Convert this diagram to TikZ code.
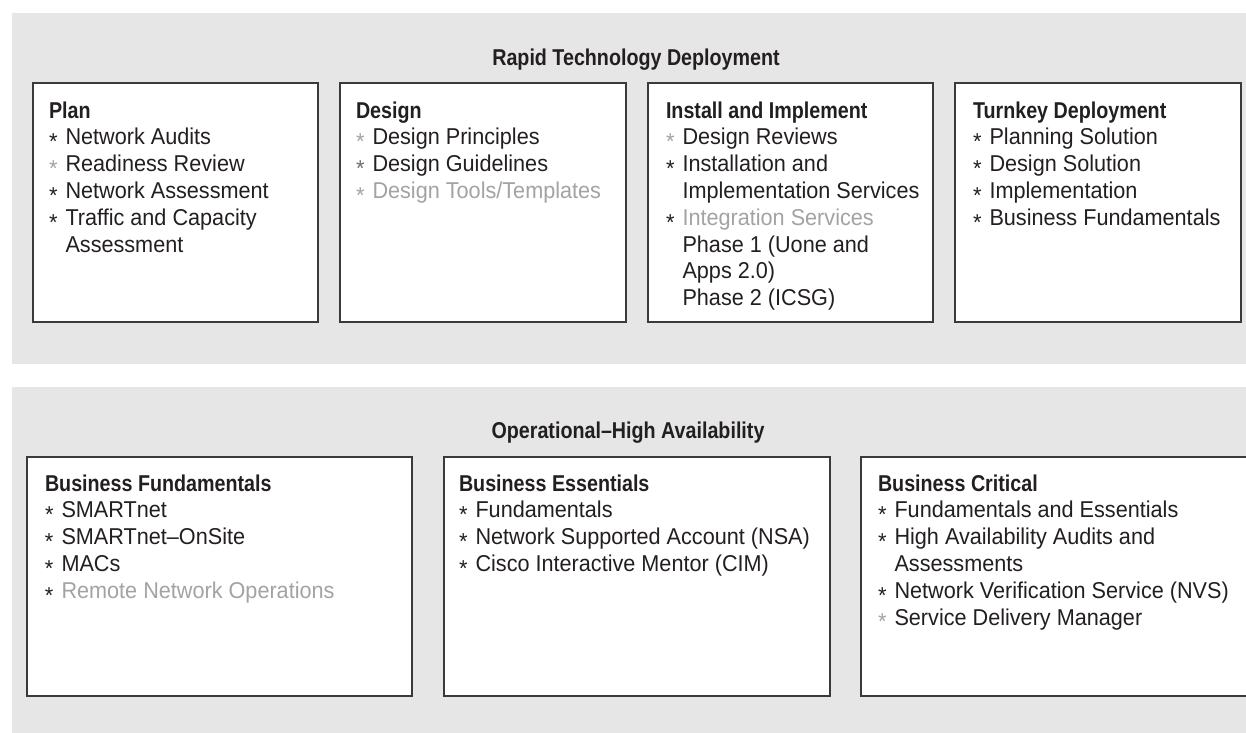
\documentclass[tikz,border=0pt]{standalone}
\usepackage{fontspec}
\setmainfont{Liberation Sans}[FakeStretch=0.945]
\newfontfamily\hdfont{Liberation Sans}[FakeStretch=0.86,Ligatures=TeX]
\definecolor{bandgray}{HTML}{E6E6E6}
\definecolor{edge}{HTML}{3A3A3A}
\definecolor{ink}{HTML}{231F20}
\definecolor{soft}{HTML}{A3A3A3}
\definecolor{mid}{HTML}{6E6E6E}

% bullet star, item line, continuation line, heading
\newcommand\bstar{\raisebox{-4.8pt}{\fontsize{23}{23}\selectfont *}}
\newcommand\itm[3]{\makebox[16.5pt][l]{\color{#1}\bstar}\textcolor{#2}{#3}}
\newcommand\cont[1]{\hspace*{16.5pt}#1}
\newcommand\hd[1]{{\hdfont\bfseries #1}}
\newcommand\blk[1]{\parbox[t]{420pt}{\fontsize{22.9}{26.8}\selectfont\raggedright #1\par}}

\begin{document}
\begin{tikzpicture}[x=1pt,y=-1pt,
  band/.style={fill=bandgray,draw=none,inner sep=0,outer sep=0,anchor=north west},
  card/.style={draw=edge,fill=white,line width=1.3pt,inner sep=0,outer sep=0,anchor=north west,minimum height=239pt},
  body/.style={anchor=base west,inner sep=0,outer sep=0,text=ink},
  title/.style={anchor=base,inner sep=0,outer sep=0,text=ink,font=\hdfont\bfseries\fontsize{22.9}{26}\selectfont}]
\useasboundingbox (0,0) rectangle (1246,732);
\clip (0,0) rectangle (1246,732);
\fill[white] (0,0) rectangle (1246,732);

% background bands
\node[band,minimum width=1240pt,minimum height=351pt] (rtd) at (12,13) {};
\node[band,minimum width=1240pt,minimum height=350pt] (oha) at (12,387) {};

\node[title] (rtdtitle) at (636,65) {Rapid Technology Deployment};
\node[title] (ohatitle) at (628,438) {Operational–High Availability};

% upper cards
\node[card,minimum width=285pt] (plan) at (33,83) {};
\node[card,minimum width=286pt] (design) at (340,83) {};
\node[card,minimum width=285pt] (install) at (648,83) {};
\node[card,minimum width=286pt] (turnkey) at (955,83) {};

% lower cards
\node[card,minimum width=385pt] (bfund) at (27,457) {};
\node[card,minimum width=386pt] (bess) at (444,457) {};
\node[card,minimum width=400pt] (bcrit) at (861,457) {};

% card texts
\node[body] (plantxt) at (49,118) {\blk{\hd{Plan}\\
  \itm{ink}{ink}{Network Audits}\\
  \itm{soft}{ink}{Readiness Review}\\
  \itm{ink}{ink}{Network Assessment}\\
  \itm{ink}{ink}{Traffic and Capacity}\\
  \cont{Assessment}}};

\node[body] (designtxt) at (356,118) {\blk{\hd{Design}\\
  \itm{soft}{ink}{Design Principles}\\
  \itm{mid}{ink}{Design Guidelines}\\
  \itm{soft}{soft}{Design Tools/Templates}}};

\node[body] (installtxt) at (666,118) {\blk{\hd{Install and Implement}\\
  \itm{soft}{ink}{Design Reviews}\\
  \itm{ink}{ink}{Installation and}\\
  \cont{Implementation Services}\\
  \itm{ink}{soft}{Integration Services}\\
  \cont{Phase 1 (Uone and}\\
  \cont{Apps 2.0)}\\
  \cont{Phase 2 (ICSG)}}};

\node[body] (turnkeytxt) at (973,118) {\blk{\hd{Turnkey Deployment}\\
  \itm{ink}{ink}{Planning Solution}\\
  \itm{ink}{ink}{Design Solution}\\
  \itm{ink}{ink}{Implementation}\\
  \itm{ink}{ink}{Business Fundamentals}}};

\node[body] (bfundtxt) at (45,491) {\blk{\hd{Business Fundamentals}\\
  \itm{ink}{ink}{SMARTnet}\\
  \itm{ink}{ink}{SMARTnet–OnSite}\\
  \itm{ink}{ink}{MACs}\\
  \itm{ink}{soft}{Remote Network Operations}}};

\node[body] (besstxt) at (459,491) {\blk{\hd{Business Essentials}\\
  \itm{ink}{ink}{Fundamentals}\\
  \itm{ink}{ink}{Network Supported Account (NSA)}\\
  \itm{ink}{ink}{Cisco Interactive Mentor (CIM)}}};

\node[body] (bcrittxt) at (878,491) {\blk{\hd{Business Critical}\\
  \itm{ink}{ink}{Fundamentals and Essentials}\\
  \itm{ink}{ink}{High Availability Audits and}\\
  \cont{Assessments}\\
  \itm{ink}{ink}{Network Verification Service (NVS)}\\
  \itm{soft}{ink}{Service Delivery Manager}}};
\end{tikzpicture}
\end{document}
